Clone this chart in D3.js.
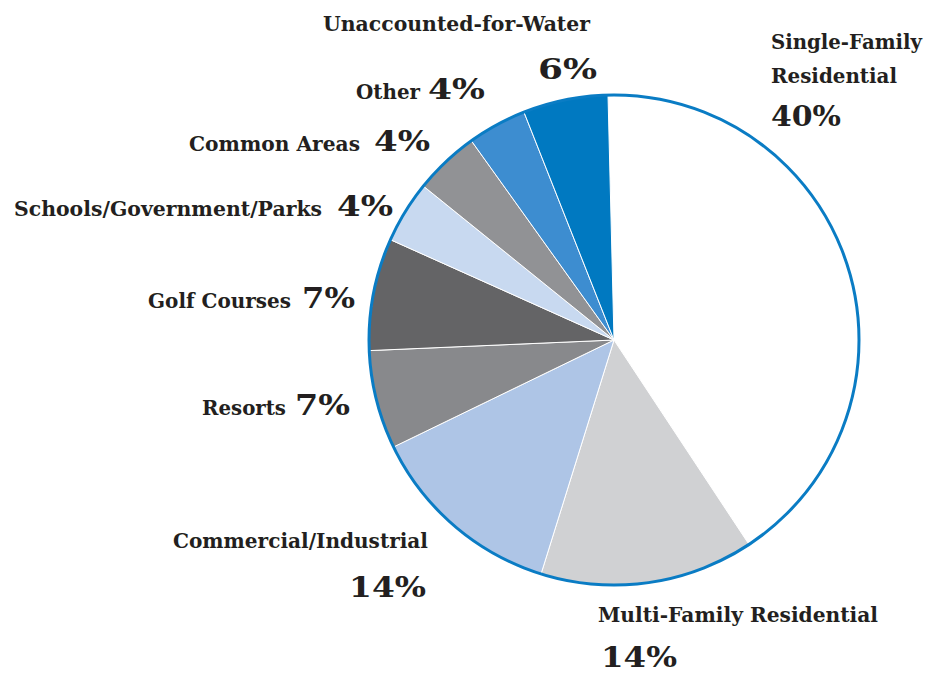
<!DOCTYPE html>
<html>
<head>
<meta charset="utf-8">
<script src="https://cdn.jsdelivr.net/npm/d3@7"></script>
<style>
  html, body { margin: 0; padding: 0; background: #fff; }
</style>
</head>
<body>
<svg id="chart" width="938" height="673"></svg>
<script>
const categories = ['Single-Family Residential', 'Multi-Family Residential', 'Commercial/Industrial',
  'Resorts', 'Golf Courses', 'Schools/Government/Parks', 'Common Areas', 'Other', 'Unaccounted-for-Water'];
const shares = [41.1, 14.1, 13.0, 6.5, 7.4, 4.1, 4.3, 3.9, 5.6];
const percentLabels = ['40%', '14%', '14%', '7%', '7%', '4%', '4%', '4%', '6%'];
const nameLines = [
  ['Single-Family', 'Residential'],
  ['Multi-Family Residential'],
  ['Commercial/Industrial'],
  ['Resorts'],
  ['Golf Courses'],
  ['Schools/Government/Parks'],
  ['Common Areas'],
  ['Other'],
  ['Unaccounted-for-Water']
];
const sliceColors = ['#ffffff', '#d0d1d3', '#aec5e6', '#88898c', '#646466', '#c8d9f0', '#919295', '#3d8dd0', '#0079c1'];

// label layout (hand placed like the original artwork): [x, baseline, width]
const nameLayout = [
  [[771, 49, 151], [771, 83, 126]],
  [[598, 622, 280]],
  [[173, 548, 255]],
  [[202, 415, 84]],
  [[148, 308, 143]],
  [[14, 216, 308]],
  [[189, 151, 171]],
  [[356, 99, 64]],
  [[323, 31, 267]]
];
const pctLayout = [
  [771, 126, 70], [601, 667, 76], [349, 597, 77], [295, 415, 55], [302, 308, 53],
  [337, 216, 56], [374, 151, 56], [428, 99, 57], [538, 79, 59]
];

const serif = "'DejaVu Serif', serif";

const cx = 614;
const cy = 340;
const radius = 245;
const start = -1.4 * Math.PI / 180;

const svg = d3.select('#chart');

const pie = d3.pie()
  .sort(null)
  .value(d => d)
  .startAngle(start)
  .endAngle(start + 2 * Math.PI);

const arc = d3.arc().innerRadius(0).outerRadius(radius);

const g = svg.append('g').attr('transform', `translate(${cx},${cy})`);

g.selectAll('path.slice')
  .data(pie(shares))
  .enter()
  .append('path')
  .attr('class', 'slice')
  .attr('d', arc)
  .attr('fill', (d, i) => sliceColors[i])
  .attr('stroke', '#ffffff')
  .attr('stroke-width', 1);

// blue rim round the whole pie
g.append('circle')
  .attr('r', radius)
  .attr('fill', 'none')
  .attr('stroke', '#0a7cc4')
  .attr('stroke-width', 3);

// category names
const labels = svg.append('g')
  .attr('class', 'labels')
  .style('font-family', serif)
  .style('font-weight', 'bold')
  .attr('fill', '#231f20');

nameLines.forEach((lines, i) => {
  lines.forEach((line, j) => {
    const [x, y, w] = nameLayout[i][j];
    labels.append('text')
      .attr('x', x)
      .attr('y', y)
      .style('font-size', '21px')
      .attr('textLength', w)
      .attr('lengthAdjust', 'spacingAndGlyphs')
      .text(line);
  });
});

// percentages
percentLabels.forEach((p, i) => {
  const [x, y, w] = pctLayout[i];
  labels.append('text')
    .attr('x', x)
    .attr('y', y)
    .style('font-size', '28px')
    .attr('textLength', w)
    .attr('lengthAdjust', 'spacingAndGlyphs')
    .text(p);
});
</script>
</body>
</html>
